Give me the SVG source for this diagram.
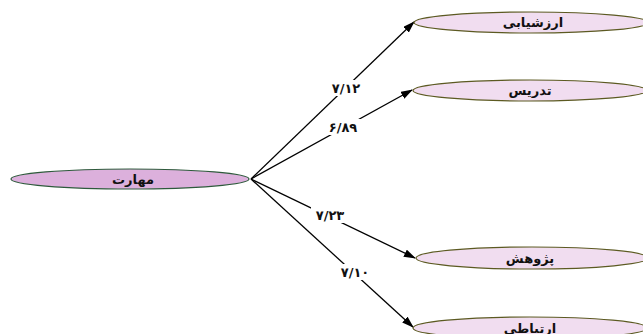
<svg xmlns="http://www.w3.org/2000/svg" width="643" height="334" viewBox="0 0 643 334">
<style>
.src{fill:#dcb0dc;stroke:#2e5a3c;stroke-width:1.2}
.tgt{fill:#f1ddf0;stroke:#5c5a22;stroke-width:1.2}
.lbl{font-family:"DejaVu Sans",sans-serif;font-weight:bold;font-size:13px;fill:#111;text-anchor:middle;dominant-baseline:central}
.num{font-family:"DejaVu Sans",sans-serif;font-weight:bold;font-size:13px;fill:#111;text-anchor:middle;dominant-baseline:central;letter-spacing:1px}
.edge{stroke:#000;stroke-width:1.3;fill:none;marker-end:url(#ah)}
.bg{fill:#fff}
</style>
<defs>
<marker id="ah" markerWidth="12" markerHeight="8" refX="11" refY="4" orient="auto" markerUnits="userSpaceOnUse">
<path d="M0,0 L12,4 L0,8 z" fill="#000"/>
</marker>
</defs>
<rect width="643" height="334" fill="#fff"/>
<g id="connectors">
<path class="edge" d="M251,179 L414,22"/>
<path class="edge" d="M251,179 L412,90"/>
<path class="edge" d="M251,179 L415,258"/>
<path class="edge" d="M251,179 L413,327"/>
<rect class="bg" x="327" y="80" width="38" height="16"/>
<text class="num" x="346" y="88">۷/۱۲</text>
<rect class="bg" x="324" y="119" width="38" height="16"/>
<text class="num" x="343" y="127">۶/۸۹</text>
<rect class="bg" x="311" y="207" width="38" height="16"/>
<text class="num" x="330" y="215">۷/۲۳</text>
<rect class="bg" x="336" y="264" width="38" height="16"/>
<text class="num" x="355" y="272">۷/۱۰</text>
</g>
<g id="n-maharat">
<ellipse class="src" cx="130" cy="179" rx="119" ry="10"/>
<text class="lbl" x="133" y="179">مهارت</text>
</g>
<g id="n-arzeshyabi">
<ellipse class="tgt" cx="531" cy="22.5" rx="117" ry="10.5"/>
<text class="lbl" x="533" y="22">ارزشیابی</text>
</g>
<g id="n-tadris">
<ellipse class="tgt" cx="530" cy="90.5" rx="117" ry="10.5"/>
<text class="lbl" x="530" y="90">تدریس</text>
</g>
<g id="n-pazhuhesh">
<ellipse class="tgt" cx="532" cy="258" rx="116" ry="11"/>
<text class="lbl" x="530" y="258">پژوهش</text>
</g>
<g id="n-ertebati">
<ellipse class="tgt" cx="530" cy="328" rx="117" ry="11"/>
<text class="lbl" x="530" y="328">ارتباطی</text>
</g>
</svg>
